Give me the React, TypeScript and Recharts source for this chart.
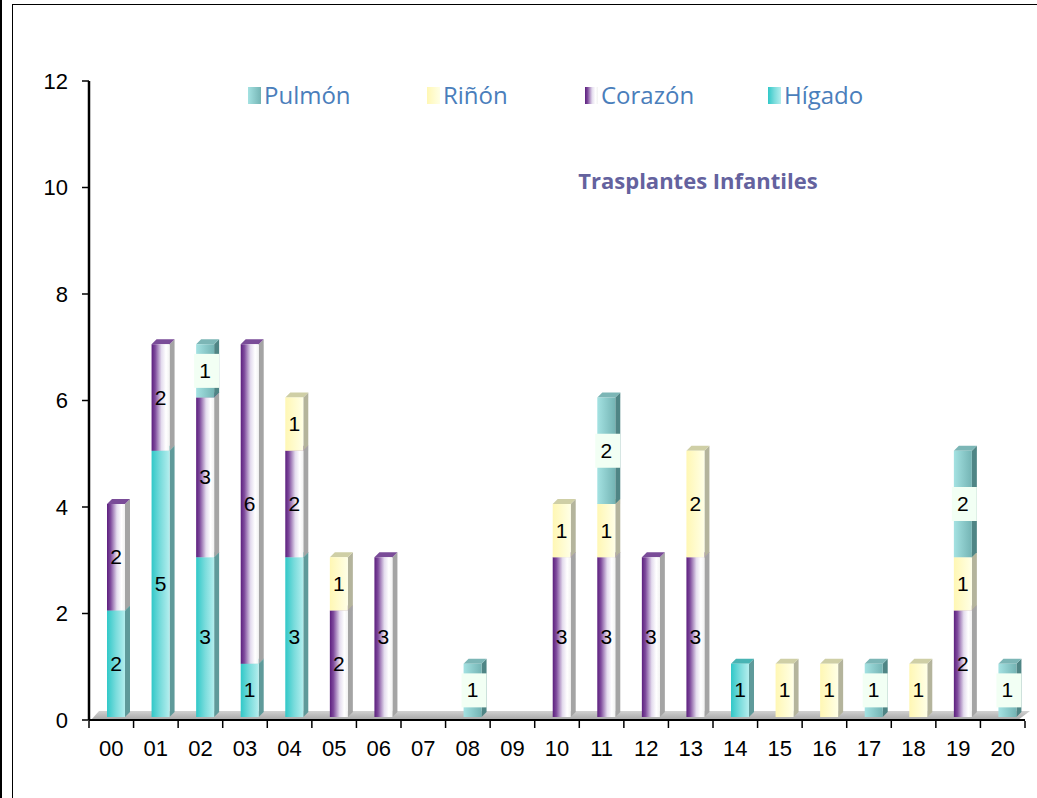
import React from "react";
import { Bar, BarChart, LabelList, ReferenceArea, XAxis, YAxis } from "recharts";

const years = ["00", "01", "02", "03", "04", "05", "06", "07", "08", "09", "10", "11", "12", "13", "14", "15", "16", "17", "18", "19", "20"];
const higado = [2, 5, 3, 1, 3, 0, 0, 0, 0, 0, 0, 0, 0, 0, 1, 0, 0, 0, 0, 0, 0];
const corazon = [2, 2, 3, 6, 2, 2, 3, 0, 0, 0, 3, 3, 3, 3, 0, 0, 0, 0, 0, 2, 0];
const rinon = [0, 0, 0, 0, 1, 1, 0, 0, 0, 0, 1, 1, 0, 2, 0, 1, 1, 0, 1, 1, 0];
const pulmon = [0, 0, 1, 0, 0, 0, 0, 0, 1, 0, 0, 2, 0, 0, 0, 0, 0, 1, 0, 2, 1];
const yTicks = [0, 2, 4, 6, 8, 10, 12];

const data = years.map((year, i) => ({
  year,
  higado: higado[i],
  corazon: corazon[i],
  rinon: rinon[i],
  pulmon: pulmon[i],
}));

type Serie = {
  key: string;
  name: string;
  stops: [number, string][];
  side: string;
  top: string;
  boxed: boolean;
};

// stack order bottom -> top
const series: Serie[] = [
  { key: "higado", name: "Hígado", stops: [[0, "#30c8c8"], [0.5, "#7adcdc"], [1, "#b4eeee"]], side: "#5f9a9a", top: "#48b4b4", boxed: false },
  { key: "corazon", name: "Corazón", stops: [[0, "#5c1f7e"], [0.2, "#7e4a9c"], [0.55, "#e4dcee"], [0.8, "#ffffff"], [1, "#f2f2f2"]], side: "#a4a4a4", top: "#7a4c98", boxed: false },
  { key: "rinon", name: "Riñón", stops: [[0, "#fff7b4"], [1, "#ffffe6"]], side: "#b4b49c", top: "#cfcfa6", boxed: false },
  { key: "pulmon", name: "Pulmón", stops: [[0, "#a4e2e2"], [1, "#74b4b4"]], side: "#4f8585", top: "#7cb6b6", boxed: true },
];
const legendOrder = ["pulmon", "rinon", "corazon", "higado"];
const legendLeft = [248, 427, 585, 768];

const DX = 5;
const DY = 3;
const DEPTH = 5;
const PLOT_LEFT = 89;
const PLOT_RIGHT = 1025;
const BAND = (PLOT_RIGHT - PLOT_LEFT) / years.length;
const FONT = "'Liberation Sans', Arial, sans-serif";

const makeShape = (s: Serie) => (p: any) => {
  const { x, y, width, height } = p;
  if (!height || height <= 0.5) return <g />;
  const l = x + DX;
  const t = y - DY;
  const w = width;
  const h = height;
  return (
    <g>
      <polygon
        points={`${l + w},${t} ${l + w + DEPTH},${t - DEPTH} ${l + w + DEPTH},${t + h - DEPTH} ${l + w},${t + h}`}
        fill={s.side}
      />
      <polygon
        points={`${l},${t} ${l + DEPTH},${t - DEPTH} ${l + w + DEPTH},${t - DEPTH} ${l + w},${t}`}
        fill={s.top}
      />
      <rect x={l} y={t} width={w} height={h} fill={`url(#g-${s.key})`} />
    </g>
  );
};

const makeLabel = (s: Serie) => (p: any) => {
  const vb = p.viewBox || {};
  const x = p.x ?? vb.x;
  const y = p.y ?? vb.y;
  const width = p.width ?? vb.width;
  const height = p.height ?? vb.height;
  if (!p.value) return null;
  const cx = x + DX + width / 2;
  const cy = y - DY + height / 2;
  return (
    <g>
      {s.boxed && <rect x={cx - 11} y={cy - 17} width={25} height={34} fill="#f2fff4" />}
      <text x={cx} y={cy + 7} textAnchor="middle" fontSize={21} fontFamily={FONT} fill="#000">
        {p.value}
      </text>
    </g>
  );
};

function XTick(props: any) {
  const { x, y, payload, index } = props;
  const half = BAND / 2;
  return (
    <g>
      <line x1={x - half} x2={x - half} y1={y + 1} y2={y + 8} stroke="#000" strokeWidth={1.5} />
      {index === years.length - 1 && (
        <line x1={x + half} x2={x + half} y1={y + 1} y2={y + 8} stroke="#000" strokeWidth={1.5} />
      )}
      <text x={x} y={y + 36} textAnchor="middle" fontSize={22} fontFamily={FONT} fill="#000">
        {payload.value}
      </text>
    </g>
  );
}

function Floor(p: any) {
  const { x, y, width, height } = p;
  return (
    <polygon
      points={`${x + 2},${y + height} ${x + width - 7},${y + height} ${x + width + 5},${y} ${x + 10},${y}`}
      fill="url(#g-floor)"
    />
  );
}

export default function App() {
  return (
    <div style={{ position: "absolute", left: 0, top: 0, width: 1037, height: 798, background: "#fff", overflow: "hidden" }}>
      <div style={{ position: "absolute", left: 0, top: 0, width: 2, height: 798, background: "#000" }} />
      <div style={{ position: "absolute", left: 12, top: 4, width: 1040, height: 800, borderLeft: "1.5px solid #000", borderTop: "1.5px solid #000" }} />

      <BarChart
        width={1037}
        height={798}
        data={data}
        margin={{ top: 81, right: 1037 - PLOT_RIGHT, bottom: 38, left: PLOT_LEFT - 60 }}
        barSize={18}
        style={{ position: "absolute", left: 0, top: 0 }}
      >
        <defs>
          {series.map((s) => (
            <linearGradient key={s.key} id={`g-${s.key}`} x1="0" y1="0" x2="1" y2="0">
              {s.stops.map(([o, c]) => (
                <stop key={o} offset={o} stopColor={c} />
              ))}
            </linearGradient>
          ))}
          <linearGradient id="g-floor" x1="0" y1="0" x2="0" y2="1">
            <stop offset={0} stopColor="#d2d2d2" />
            <stop offset={1} stopColor="#a6a6a6" />
          </linearGradient>
        </defs>
        <XAxis
          dataKey="year"
          height={40}
          axisLine={{ stroke: "#000", strokeWidth: 2 }}
          tickLine={false}
          tickSize={0}
          tickMargin={0}
          interval={0}
          tick={<XTick />}
        />
        <YAxis
          width={60}
          domain={[0, 12]}
          ticks={yTicks}
          interval={0}
          axisLine={{ stroke: "#000", strokeWidth: 2.5 }}
          tickLine={{ stroke: "#000", strokeWidth: 1.5 }}
          tickSize={7}
          tickMargin={14}
          tick={{ fontSize: 22, fill: "#000", fontFamily: FONT }}
        />
        <ReferenceArea y1={0} y2={0.17} shape={<Floor />} ifOverflow="visible" />
        {series.map((s) => (
          <Bar key={s.key} dataKey={s.key} stackId="a" shape={makeShape(s)} isAnimationActive={false}>
            <LabelList dataKey={s.key} content={makeLabel(s)} />
          </Bar>
        ))}
      </BarChart>

      <div
        style={{
          position: "absolute",
          left: 540,
          top: 166,
          width: 316,
          textAlign: "center",
          fontFamily: "'Open Sans', sans-serif",
          fontWeight: 700,
          fontSize: 22,
          lineHeight: "28px",
          color: "#64629e",
        }}
      >
        Trasplantes Infantiles
      </div>

      {legendOrder.map((k, i) => {
        const s = series.find((v) => v.key === k)!;
        return (
          <div
            key={k}
            style={{ position: "absolute", left: legendLeft[i], top: 80, height: 30, display: "flex", alignItems: "center" }}
          >
            <div
              style={{
                width: 13,
                height: 17,
                background: `linear-gradient(to right, ${s.stops.map(([o, c]) => `${c} ${o * 100}%`).join(", ")})`,
              }}
            />
            <span
              style={{
                marginLeft: 3,
                fontFamily: "'Open Sans', sans-serif",
                fontSize: 24,
                color: "#4a7ebb",
                lineHeight: "30px",
              }}
            >
              {s.name}
            </span>
          </div>
        );
      })}
    </div>
  );
}
